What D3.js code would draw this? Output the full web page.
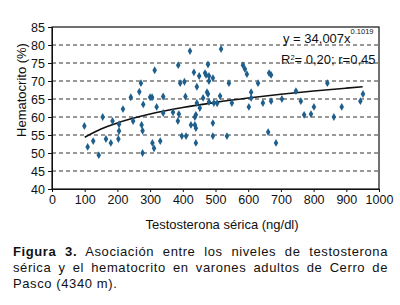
<!DOCTYPE html>
<html>
<head>
<meta charset="utf-8">
<script src="https://cdn.jsdelivr.net/npm/d3@7"></script>
<style>
  html, body { margin: 0; padding: 0; background: #fff; }
  #wrap { position: relative; width: 400px; height: 305px; overflow: hidden; }
  svg { position: absolute; left: 0; top: 0; }
  .cap { position: absolute; left: 13px; top: 244px; width: 375px;
         font-family: "Liberation Sans", Arial, sans-serif; font-size: 13px;
         line-height: 16px; letter-spacing: 0.6px; color: #111; }
  .cap div { text-align: justify; text-align-last: justify; white-space: nowrap; }
  .cap div.last { text-align-last: left; }
</style>
</head>
<body>
<div id="wrap">
<svg id="chart" width="400" height="305"></svg>
<div class="cap">
  <div><b>Figura 3.</b> Asociación entre los niveles de testosterona</div>
  <div>sérica y el hematocrito en varones adultos de Cerro de</div>
  <div class="last">Pasco (4340 m).</div>
</div>
</div>
<script>
// Data
const testosterona = [99,109,126,143,155,165,180,185,203,205,205,217,241,248,267,272,274,277,277,279,
  300,306,307,312,314,320,331,340,340,370,385,386,388,392,397,405,408,410,422,425,
  434,437,437,440,440,440,443,443,450,452,462,468,471,474,477,477,480,480,480,492,
  492,492,495,505,514,517,535,541,550,584,590,596,602,609,609,630,645,661,664,670,
  670,685,703,746,761,771,792,801,842,862,886,943,951];
const hematocrito = [57.5,51.7,53.3,49.4,60,53.9,52.8,58.9,53.9,58,56.1,62.2,65.5,58.9,67,69.4,57.8,56.2,50,63.5,
  65.5,65.5,52.8,51.3,73,62.8,53.3,61.1,65.7,61.3,58.9,74.4,60.8,69.4,54.7,69.8,65.7,54.7,78.3,57.8,
  72.4,57.8,60,60.6,56.9,52.8,68.4,63.9,71.4,62.5,65.3,72.2,71.7,66.9,66.4,74.6,71.4,70,64.2,70.8,
  58.3,54.7,63.9,63.8,65.8,78.9,54.7,69.4,63.9,74.4,73.3,71.9,62.8,66.9,65.3,69.4,63.9,55.8,72.2,71.7,
  64.4,52.8,65,67.2,64.4,60.6,60.8,62.8,69.4,60,62.8,64.4,66.4];
// Trend curve (y = 34,007x^0.1019) values read at these x positions
const trendX = [100,150,200,300,400,500,600,700,800,900,950];
const trendY = [54.37,56.66,58.35,60.81,62.62,64.06,65.26,66.30,67.21,68.01,68.39];
const xTicks = [0,100,200,300,400,500,600,700,800,900,1000];
const yTicks = [40,45,50,55,60,65,70,75,80,85];
const gridValues = [45,50,55,60,65,70,75,80];

const font = '"Liberation Sans", Arial, sans-serif';
const svg = d3.select('#chart');
const x = d3.scaleLinear().domain([0,1000]).range([52,379]);
const y = d3.scaleLinear().domain([40,85]).range([189,27]);

// gridlines
svg.append('g').selectAll('line').data(gridValues).join('line')
  .attr('x1', x(0)).attr('x2', x(1000))
  .attr('y1', d => y(d)).attr('y2', d => y(d))
  .attr('stroke', '#333').attr('stroke-width', 1).attr('stroke-dasharray', '4,3');

// frame
svg.append('rect').attr('x', x(0)).attr('y', y(85))
  .attr('width', x(1000)-x(0)).attr('height', y(40)-y(85))
  .attr('fill', 'none').attr('stroke', '#111').attr('stroke-width', 1.2);

// axes
const yAxis = svg.append('g').attr('transform', `translate(${x(0)},0)`)
  .call(d3.axisLeft(y).tickValues(yTicks).tickFormat(d3.format('d')).tickSize(4).tickPadding(3));
const xAxis = svg.append('g').attr('transform', `translate(0,${y(40)})`)
  .call(d3.axisBottom(x).tickValues(xTicks).tickFormat(d3.format('d')).tickSize(3).tickPadding(3));
[yAxis, xAxis].forEach(g => {
  g.select('.domain').attr('stroke', '#111');
  g.selectAll('.tick line').attr('stroke', '#111');
  g.selectAll('text').attr('font-family', font).attr('font-size', 12.5).attr('fill', '#111');
});

// trend line
svg.append('path').datum(trendX.map((d,i) => [d, trendY[i]]))
  .attr('d', d3.line().x(d => x(d[0])).y(d => y(d[1])).curve(d3.curveMonotoneX))
  .attr('fill', 'none').attr('stroke', '#111').attr('stroke-width', 1.6);

// points
svg.append('g').selectAll('path').data(testosterona.map((d,i) => [d, hematocrito[i]])).join('path')
  .attr('transform', d => `translate(${x(d[0])},${y(d[1])})`)
  .attr('d', d3.symbol().type(d3.symbolDiamond).size(18))
  .attr('fill', '#1f5f8b');

// axis titles
svg.append('text').attr('x', 222).attr('y', 229).attr('text-anchor', 'middle')
  .attr('font-family', font).attr('font-size', 13).attr('fill', '#111')
  .text('Testosterona sérica (ng/dl)');
svg.append('text').attr('transform', 'translate(26,90) rotate(-90)').attr('text-anchor', 'middle')
  .attr('font-family', font).attr('font-size', 13).attr('fill', '#111')
  .text('Hematocrito (%)');

// equation
const eq1 = svg.append('text').attr('x', 283).attr('y', 43)
  .attr('font-family', font).attr('font-size', 13).attr('fill', '#111');
eq1.append('tspan').text('y = 34,007x');
eq1.append('tspan').attr('dy', -9).attr('font-size', 7.5).text('0.1019');
const eq2 = svg.append('text').attr('x', 281).attr('y', 64)
  .attr('font-family', font).attr('font-size', 13).attr('fill', '#111');
eq2.append('tspan').text('R');
eq2.append('tspan').attr('dy', -4).attr('font-size', 7.5).text('2');
eq2.append('tspan').attr('dy', 4).text('= 0,20; r=0,45');
</script>
</body>
</html>
